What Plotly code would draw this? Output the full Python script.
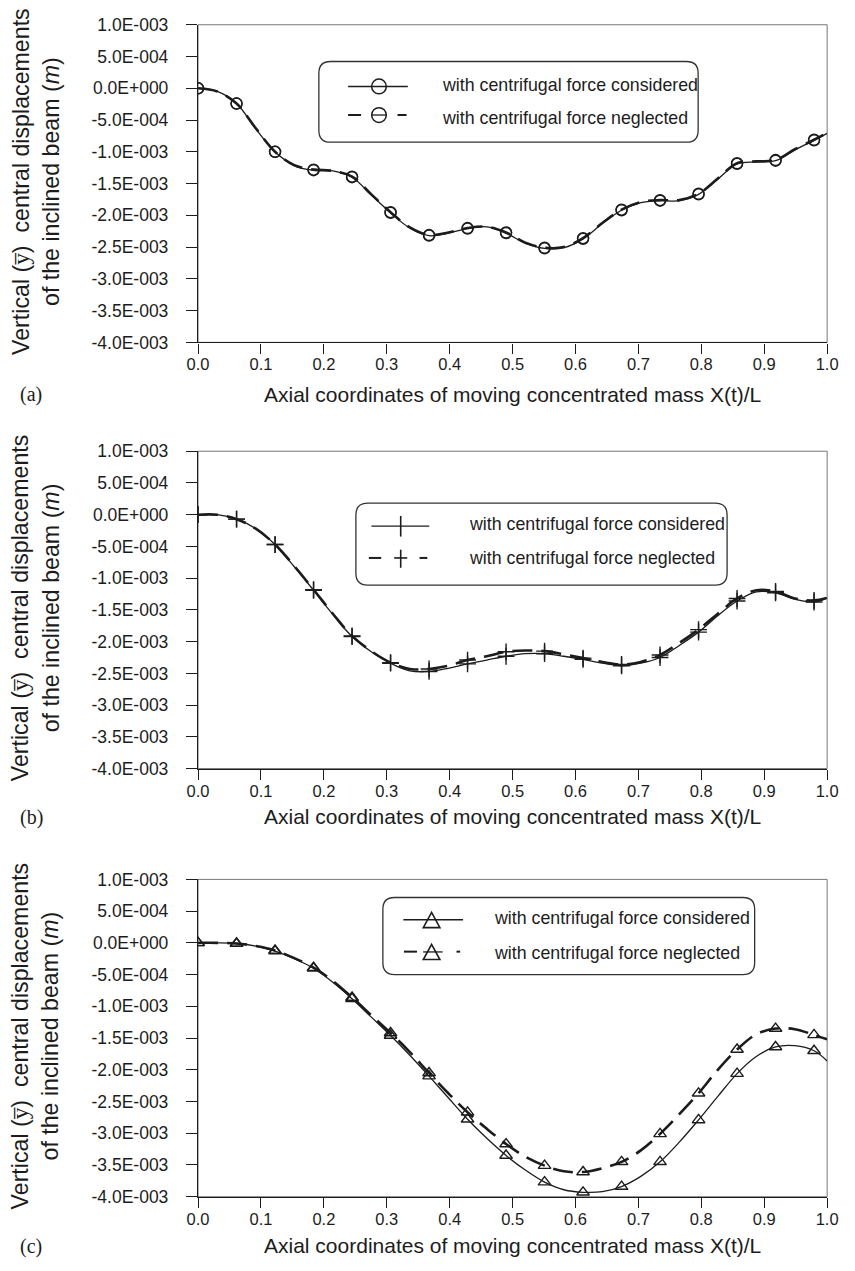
import plotly.graph_objects as go

W, H = 855, 1271

# Axial coordinate of the moving mass, X(t)/L; markers sit on every second point
X_GRID = [0.0, 0.0306, 0.0612, 0.0918, 0.1224, 0.1530, 0.1836, 0.2142, 0.2448,
          0.2754, 0.3060, 0.3366, 0.3672, 0.3978, 0.4284, 0.4590, 0.4896, 0.5202,
          0.5508, 0.5814, 0.6120, 0.6426, 0.6732, 0.7038, 0.7344, 0.7650, 0.7956,
          0.8262, 0.8568, 0.8874, 0.9180, 0.9486, 0.9792, 1.0]

# (a) vertical central displacement (m)
A_CONSIDERED = [0.0, -0.05e-3, -0.24e-3, -0.64e-3, -1.00e-3, -1.22e-3, -1.29e-3, -1.30e-3,
                -1.40e-3, -1.68e-3, -1.96e-3, -2.20e-3, -2.32e-3, -2.28e-3, -2.21e-3,
                -2.18e-3, -2.28e-3, -2.44e-3, -2.52e-3, -2.51e-3, -2.37e-3, -2.13e-3,
                -1.92e-3, -1.80e-3, -1.77e-3, -1.77e-3, -1.67e-3, -1.43e-3, -1.19e-3,
                -1.16e-3, -1.14e-3, -0.97e-3, -0.82e-3, -0.71e-3]
A_NEGLECTED = [0.0, -0.05e-3, -0.24e-3, -0.63e-3, -1.00e-3, -1.21e-3, -1.28e-3, -1.30e-3,
               -1.39e-3, -1.67e-3, -1.95e-3, -2.19e-3, -2.31e-3, -2.27e-3, -2.20e-3,
               -2.18e-3, -2.27e-3, -2.43e-3, -2.51e-3, -2.50e-3, -2.36e-3, -2.12e-3,
               -1.91e-3, -1.79e-3, -1.76e-3, -1.76e-3, -1.66e-3, -1.42e-3, -1.18e-3,
               -1.15e-3, -1.13e-3, -0.96e-3, -0.81e-3, -0.70e-3]

# (b)
B_CONSIDERED = [0.0, 0.0, -0.07e-3, -0.22e-3, -0.47e-3, -0.82e-3, -1.19e-3, -1.57e-3,
                -1.92e-3, -2.16e-3, -2.34e-3, -2.46e-3, -2.47e-3, -2.42e-3, -2.35e-3,
                -2.29e-3, -2.23e-3, -2.19e-3, -2.19e-3, -2.23e-3, -2.28e-3, -2.34e-3,
                -2.38e-3, -2.34e-3, -2.25e-3, -2.06e-3, -1.85e-3, -1.59e-3, -1.36e-3,
                -1.215e-3, -1.23e-3, -1.33e-3, -1.375e-3, -1.31e-3]
B_NEGLECTED = [0.0, 0.0, -0.07e-3, -0.22e-3, -0.47e-3, -0.81e-3, -1.18e-3, -1.56e-3,
               -1.91e-3, -2.15e-3, -2.33e-3, -2.43e-3, -2.43e-3, -2.38e-3, -2.29e-3,
               -2.23e-3, -2.16e-3, -2.14e-3, -2.15e-3, -2.20e-3, -2.26e-3, -2.32e-3,
               -2.36e-3, -2.32e-3, -2.21e-3, -2.02e-3, -1.81e-3, -1.56e-3, -1.32e-3,
               -1.19e-3, -1.21e-3, -1.32e-3, -1.35e-3, -1.31e-3]

# (c)
C_CONSIDERED = [0.0, 0.0, -0.01e-3, -0.05e-3, -0.13e-3, -0.25e-3, -0.40e-3, -0.62e-3,
                -0.88e-3, -1.17e-3, -1.46e-3, -1.77e-3, -2.10e-3, -2.44e-3, -2.78e-3,
                -3.08e-3, -3.35e-3, -3.58e-3, -3.77e-3, -3.89e-3, -3.93e-3, -3.92e-3,
                -3.84e-3, -3.68e-3, -3.45e-3, -3.14e-3, -2.79e-3, -2.42e-3, -2.06e-3,
                -1.79e-3, -1.64e-3, -1.62e-3, -1.70e-3, -1.86e-3]
C_NEGLECTED = [0.0, 0.0, -0.01e-3, -0.05e-3, -0.12e-3, -0.24e-3, -0.39e-3, -0.60e-3,
               -0.86e-3, -1.14e-3, -1.42e-3, -1.72e-3, -2.05e-3, -2.37e-3, -2.67e-3,
               -2.93e-3, -3.17e-3, -3.37e-3, -3.51e-3, -3.60e-3, -3.61e-3, -3.55e-3,
               -3.45e-3, -3.27e-3, -3.01e-3, -2.70e-3, -2.37e-3, -2.00e-3, -1.68e-3,
               -1.44e-3, -1.35e-3, -1.36e-3, -1.45e-3, -1.52e-3]

Y_TICK_VALS = [1.0e-3, 5.0e-4, 0.0, -5.0e-4, -1.0e-3, -1.5e-3, -2.0e-3, -2.5e-3,
               -3.0e-3, -3.5e-3, -4.0e-3]
Y_TICK_TEXT = ["1.0E-003", "5.0E-004", "0.0E+000", "-5.0E-004", "-1.0E-003", "-1.5E-003",
               "-2.0E-003", "-2.5E-003", "-3.0E-003", "-3.5E-003", "-4.0E-003"]
X_TICK_VALS = [0.0, 0.1, 0.2, 0.3, 0.4, 0.5, 0.6, 0.7, 0.8, 0.9, 1.0]
X_TICK_TEXT = ["0.0", "0.1", "0.2", "0.3", "0.4", "0.5", "0.6", "0.7", "0.8", "0.9", "1.0"]

LEGEND_TEXT = ["with centrifugal force considered", "with centrifugal force neglected"]
PANEL_LABELS = ["(a)", "(b)", "(c)"]
X_TITLE = "Axial coordinates of moving concentrated mass X(t)/L"
Y_TITLE = ("Vertical (<span style='font-family:Liberation Serif'>y\u0305</span>)"
           "  central displacements<br>of the inclined beam (<i>m</i>)")

INK = "#1c1c1c"
SANS = "Liberation Sans, Arial, sans-serif"
SERIF = "Liberation Serif, Times New Roman, serif"

# plot-area pixel boxes: (top, bottom)
PLOT_LEFT, PLOT_RIGHT = 192, 837.7
PANELS = [(15, 337.7), (448.3, 770.7), (883.3, 1205.7)]
XTITLE_Y = [391, 819, 1255]
LABEL_Y = [391, 820, 1256]


def fx(px):
    return px / W


def fy(py):
    return 1 - py / H


fig = go.Figure()

series = [
    (A_CONSIDERED, A_NEGLECTED, "circle-open", 11),
    (B_CONSIDERED, B_NEGLECTED, "cross-thin-open", 12),
    (C_CONSIDERED, C_NEGLECTED, "triangle-up-open", 11),
]

for k, (cons, negl, sym, msize) in enumerate(series):
    xa = "x" if k == 0 else f"x{k + 1}"
    ya = "y" if k == 0 else f"y{k + 1}"
    fig.add_trace(go.Scatter(x=X_GRID, y=negl, mode="lines", xaxis=xa, yaxis=ya,
                             line=dict(color=INK, width=2.6, dash="20px,9px",
                                       shape="spline", smoothing=1.0),
                             showlegend=False, hoverinfo="skip"))
    fig.add_trace(go.Scatter(x=X_GRID, y=cons, mode="lines", xaxis=xa, yaxis=ya,
                             line=dict(color=INK, width=1.3, shape="spline", smoothing=1.0),
                             showlegend=False, hoverinfo="skip"))
    for ys in (negl, cons):
        fig.add_trace(go.Scatter(x=X_GRID[:-1:2], y=ys[:-1:2], mode="markers",
                                 xaxis=xa, yaxis=ya,
                                 marker=dict(symbol=sym, size=msize, color=INK,
                                             line=dict(color=INK, width=1.4)),
                                 showlegend=False, hoverinfo="skip"))

layout = dict(
    width=W, height=H, margin=dict(l=0, r=0, t=0, b=0),
    paper_bgcolor="white", plot_bgcolor="white",
    font=dict(family=SANS, color=INK),
    shapes=[], annotations=[],
)

for k, (top, bot) in enumerate(PANELS):
    sfx = "" if k == 0 else str(k + 1)
    layout["xaxis" + sfx] = dict(
        domain=[fx(PLOT_LEFT), fx(PLOT_RIGHT)], range=[0, 1],
        anchor="y" + sfx, tickmode="array", tickvals=X_TICK_VALS, ticktext=X_TICK_TEXT,
        ticks="outside", ticklen=10, tickwidth=1.2, tickcolor=INK,
        showline=True, linecolor=INK, linewidth=1.4, showgrid=False, zeroline=False,
        tickfont=dict(size=16.5, family=SANS, color=INK), ticklabelstandoff=-3,
    )
    layout["yaxis" + sfx] = dict(
        domain=[fy(bot), fy(top)], range=[-4.0e-3, 1.0e-3],
        anchor="x" + sfx, tickmode="array", tickvals=Y_TICK_VALS, ticktext=Y_TICK_TEXT,
        ticks="outside", ticklen=11, tickwidth=1.2, tickcolor=INK,
        showline=True, linecolor=INK, linewidth=1.4, showgrid=False, zeroline=False,
        tickfont=dict(size=17.5, family=SANS, color=INK), ticklabelstandoff=14,
    )
    # thin grey frame on top/right
    layout["shapes"].append(dict(type="rect", xref=f"x{sfx} domain", yref=f"y{sfx} domain",
                                 x0=0, x1=1, y0=0, y1=1, layer="below",
                                 line=dict(color="#777", width=1)))
    mid = (top + bot) / 2
    layout["annotations"].append(dict(
        text=Y_TITLE, xref="paper", yref="paper", x=fx(25), y=fy(mid - 2),
        xanchor="center", yanchor="middle", textangle=-90, showarrow=False,
        font=dict(size=23.2, family=SANS, color=INK)))
    layout["annotations"].append(dict(
        text=X_TITLE, xref="paper", yref="paper", x=fx((PLOT_LEFT + PLOT_RIGHT) / 2),
        y=fy(XTITLE_Y[k]), xanchor="center", yanchor="middle", showarrow=False,
        font=dict(size=21, family=SANS, color=INK)))
    layout["annotations"].append(dict(
        text=PANEL_LABELS[k], xref="paper", yref="paper", x=fx(7), y=fy(LABEL_Y[k]),
        xanchor="left", yanchor="middle", showarrow=False,
        font=dict(size=20, family=SERIF, color=INK)))


def rounded_box(x0, y0, x1, y1, r=12):
    pts = [
        f"M{fx(x0 + r)},{fy(y0)}", f"L{fx(x1 - r)},{fy(y0)}",
        f"Q{fx(x1)},{fy(y0)} {fx(x1)},{fy(y0 + r)}", f"L{fx(x1)},{fy(y1 - r)}",
        f"Q{fx(x1)},{fy(y1)} {fx(x1 - r)},{fy(y1)}", f"L{fx(x0 + r)},{fy(y1)}",
        f"Q{fx(x0)},{fy(y1)} {fx(x0)},{fy(y1 - r)}", f"L{fx(x0)},{fy(y0 + r)}",
        f"Q{fx(x0)},{fy(y0)} {fx(x0 + r)},{fy(y0)}", "Z",
    ]
    return dict(type="path", xref="paper", yref="paper", path=" ".join(pts),
                line=dict(color="#333", width=1.3), fillcolor="white", layer="above")


def seg(x0, x1, y, w=1.3):
    return dict(type="line", xref="paper", yref="paper", x0=fx(x0), x1=fx(x1),
                y0=fy(y), y1=fy(y), line=dict(color=INK, width=w), layer="above")


def vseg(x, y0, y1, w=1.6):
    return dict(type="line", xref="paper", yref="paper", x0=fx(x), x1=fx(x),
                y0=fy(y0), y1=fy(y1), line=dict(color=INK, width=w), layer="above")


def circle(cx, cy, r=7.5):
    return dict(type="circle", xref="paper", yref="paper", x0=fx(cx - r), x1=fx(cx + r),
                y0=fy(cy + r), y1=fy(cy - r), line=dict(color=INK, width=1.5),
                layer="above")


def triangle(cx, cy, w=17, h=15.5):
    p = (f"M{fx(cx - w / 2)},{fy(cy + h / 2)} L{fx(cx + w / 2)},{fy(cy + h / 2)} "
         f"L{fx(cx)},{fy(cy - h / 2)} Z")
    return dict(type="path", xref="paper", yref="paper", path=p,
                line=dict(color=INK, width=1.6), layer="above")


legend_shapes = []
legend_text = []

# legend (a)
legend_shapes += [rounded_box(316, 52.3, 705.3, 134.3),
                  seg(346, 407.3, 77.7), circle(377.7, 77.7),
                  seg(346, 359.3, 106.7, 2), circle(377.7, 106.7),
                  seg(370.2, 385.2, 106.7, 1.3), seg(396.7, 406, 106.7, 2)]
legend_text += [(440, 76), (440, 109.5)]

# legend (b)
legend_shapes += [rounded_box(354, 501, 735, 584.3),
                  seg(370, 429.3, 524.3), vseg(400, 514, 535),
                  seg(367.3, 380, 556.7, 2), seg(393.3, 406.7, 556.7, 1.6),
                  vseg(400, 548.3, 566.7), seg(419.3, 427.3, 556.7, 2)]
legend_text += [(467.7, 522), (467.7, 557)]

# legend (c)
legend_shapes += [rounded_box(381.7, 901.7, 763.3, 980),
                  seg(402.7, 464, 924.3), triangle(431.7, 924.5),
                  seg(403.3, 416.7, 956.7, 2), triangle(431.7, 957),
                  seg(423, 443, 957, 1.3), seg(457.3, 461, 956.7, 2)]
legend_text += [(493.3, 922.5), (493.3, 958)]

layout["shapes"] += legend_shapes
for i, (tx, ty) in enumerate(legend_text):
    layout["annotations"].append(dict(
        text=LEGEND_TEXT[i % 2], xref="paper", yref="paper", x=fx(tx), y=fy(ty),
        xanchor="left", yanchor="middle", showarrow=False,
        font=dict(size=17.8, family=SANS, color=INK)))

fig.update_layout(**layout)
fig.write_html("out.html")
